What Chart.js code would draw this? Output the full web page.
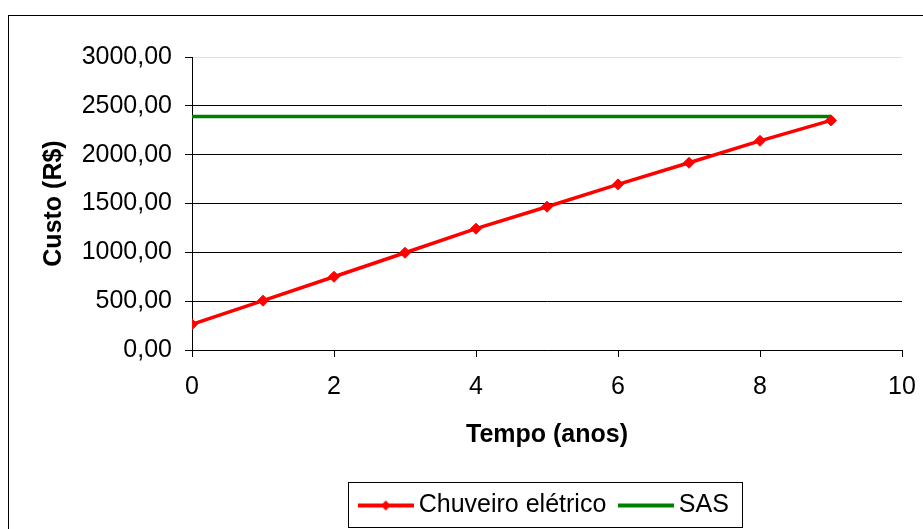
<!DOCTYPE html>
<html lang="pt-br">
<head>
    <meta charset="UTF-8">
    <title>Custo x Tempo</title>
    <style>
        body {
            margin: 0;
            background-color: #ffffff;
            overflow: hidden;
        }
        #grafico {
            position: absolute;
            left: 0;
            top: 0;
        }
        /* moldura externa do gráfico (sai pela direita e por baixo) */
        #moldura {
            position: absolute;
            left: 8px;
            top: 15px;
            width: 1000px;
            height: 1000px;
            border: 1px solid #000000;
            pointer-events: none;
        }
    </style>
    <script src="https://cdn.jsdelivr.net/npm/chart.js"></script>
</head>
<body>
    <canvas id="grafico" width="923" height="529"></canvas>
    <div id="moldura"></div>

    <script>
        // Dados
        const anos = [0, 1, 2, 3, 4, 5, 6, 7, 8, 9];
        const chuveiro = [263, 505, 750, 996, 1242, 1467, 1696, 1917, 2142, 2351];
        const sas = [2392, 2392, 2392, 2392, 2392, 2392, 2392, 2392, 2392, 2392];

        const rotulosY = ['0,00', '500,00', '1000,00', '1500,00', '2000,00', '2500,00', '3000,00'];
        const rotulosX = ['0', '2', '4', '6', '8', '10'];

        const fonte = "'Liberation Sans', Arial, sans-serif";

        // símbolos da legenda (linha com losango / linha simples)
        function simbolo(cor, losango) {
            const c = document.createElement('canvas');
            c.width = 56;
            c.height = 14;
            const g = c.getContext('2d');
            g.strokeStyle = cor;
            g.lineWidth = 4;
            g.beginPath();
            g.moveTo(0, 7);
            g.lineTo(56, 7);
            g.stroke();
            if (losango) {
                g.fillStyle = cor;
                g.beginPath();
                g.moveTo(28, 2);
                g.lineTo(33, 7);
                g.lineTo(28, 12);
                g.lineTo(23, 7);
                g.closePath();
                g.fill();
            }
            return c;
        }

        // caixa em volta da legenda
        const caixaLegenda = {
            id: 'caixaLegenda',
            afterDraw(chart) {
                const hb = chart.legend.legendHitBoxes;
                if (!hb || !hb.length) return;
                const ult = hb[hb.length - 1];
                const centro = hb[0].top + hb[0].height / 2;
                const esq = hb[0].left - 17;
                const dir = ult.left + ult.width + 13;
                const ctx = chart.ctx;
                ctx.save();
                ctx.strokeStyle = '#000000';
                ctx.lineWidth = 1;
                ctx.strokeRect(Math.round(esq) + 0.5, Math.floor(centro - 23) + 0.5,
                    Math.round(dir - esq), 45);
                ctx.restore();
            }
        };

        const ctx = document.getElementById('grafico').getContext('2d');
        new Chart(ctx, {
            type: 'line',
            data: {
                datasets: [{
                    label: 'Chuveiro elétrico',
                    data: anos.map((a, i) => ({ x: a, y: chuveiro[i] })),
                    borderColor: '#ff0000',
                    backgroundColor: '#ff0000',
                    borderWidth: 3.5,
                    pointStyle: 'rectRot',
                    pointRadius: 5.5,
                    pointBorderWidth: 1,
                    tension: 0
                }, {
                    label: 'SAS',
                    data: anos.map((a, i) => ({ x: a, y: sas[i] })),
                    borderColor: '#008000',
                    backgroundColor: '#008000',
                    borderWidth: 3.5,
                    pointRadius: 0,
                    tension: 0
                }]
            },
            options: {
                responsive: false,
                animation: false,
                devicePixelRatio: 1,
                layout: {
                    padding: { left: 0, top: 57, right: 21, bottom: 1 }
                },
                plugins: {
                    tooltip: { enabled: false },
                    legend: {
                        position: 'bottom',
                        fullSize: false,
                        labels: {
                            usePointStyle: true,
                            pointStyleWidth: 41,
                            padding: 19,
                            color: '#000000',
                            font: { family: fonte, size: 25 },
                            generateLabels: () => [
                                { text: 'Chuveiro elétrico', pointStyle: simbolo('#ff0000', true), fontColor: '#000000', lineWidth: 0, hidden: false, datasetIndex: 0 },
                                { text: 'SAS', pointStyle: simbolo('#008000', false), fontColor: '#000000', lineWidth: 0, hidden: false, datasetIndex: 1 }
                            ]
                        }
                    }
                },
                scales: {
                    x: {
                        type: 'linear',
                        min: 0,
                        max: 10,
                        afterFit: (escala) => { escala.height = 124; },
                        ticks: {
                            stepSize: 2,
                            padding: 0,
                            color: '#000000',
                            font: { family: fonte, size: 25, lineHeight: 2.4 },
                            callback: (v) => rotulosX[v / 2]
                        },
                        grid: {
                            drawOnChartArea: false,
                            drawTicks: true,
                            tickLength: 7,
                            tickColor: '#000000'
                        },
                        border: { display: true, color: '#000000', width: 1 },
                        title: {
                            display: true,
                            text: 'Tempo (anos)',
                            color: '#000000',
                            font: { family: fonte, size: 25, weight: 'bold' },
                            padding: { top: 0, bottom: 24 }
                        }
                    },
                    y: {
                        min: 0,
                        max: 3000,
                        afterFit: (escala) => { escala.width = 192; },
                        ticks: {
                            stepSize: 500,
                            padding: 13,
                            color: '#000000',
                            font: { family: fonte, size: 25 },
                            callback: (v) => rotulosY[v / 500]
                        },
                        grid: {
                            color: (c) => (c.tick && c.tick.value === 3000) ? '#e0e0e0' : '#000000',
                            lineWidth: 1,
                            tickLength: 7,
                            tickColor: '#000000'
                        },
                        border: { display: true, color: '#000000', width: 1 },
                        title: {
                            display: true,
                            text: 'Custo (R$)',
                            color: '#000000',
                            font: { family: fonte, size: 25, weight: 'bold' },
                            padding: { top: 39, bottom: 0 }
                        }
                    }
                }
            },
            plugins: [caixaLegenda]
        });
    </script>
</body>
</html>
